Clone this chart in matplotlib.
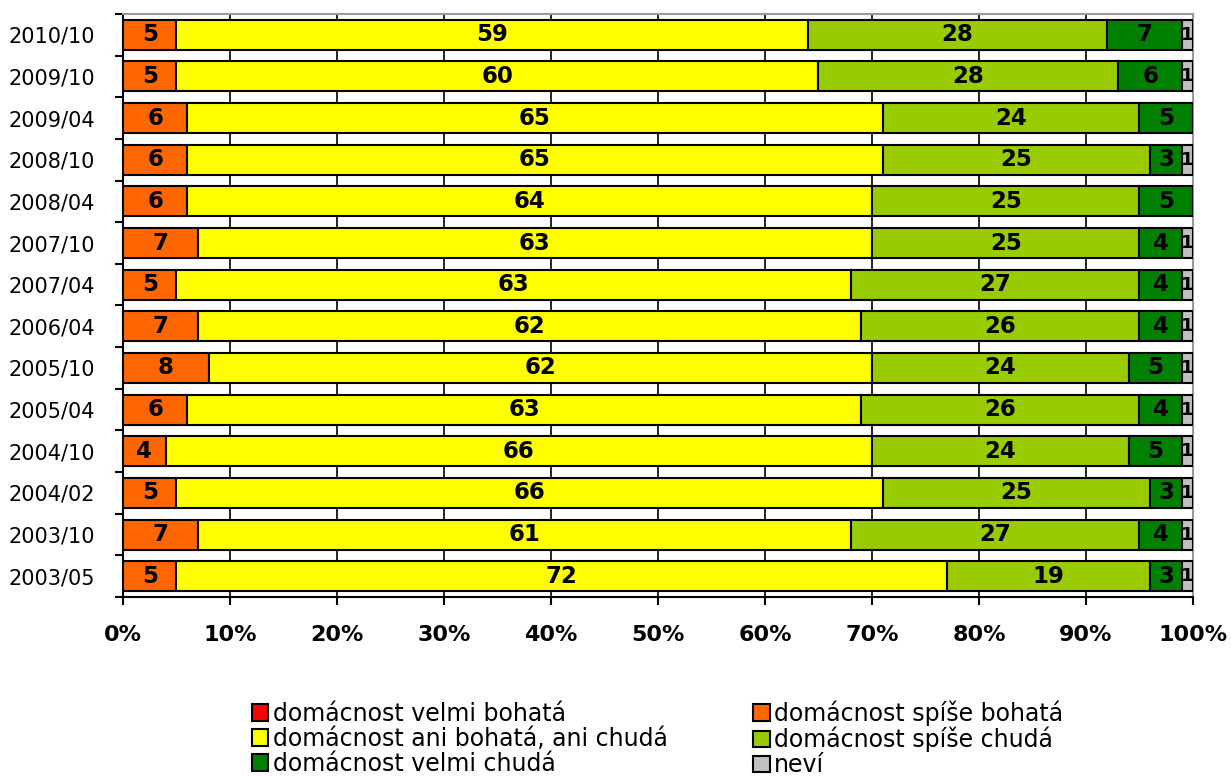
import numpy as np
import matplotlib.pyplot as plt
from matplotlib.patches import Patch

periods = ['2010/10', '2009/10', '2009/04', '2008/10', '2008/04', '2007/10', '2007/04',
           '2006/04', '2005/10', '2005/04', '2004/10', '2004/02', '2003/10', '2003/05']

velmi_bohata = [0, 0, 0, 0, 0, 0, 0, 0, 0, 0, 0, 0, 0, 0]
spise_bohata = [5, 5, 6, 6, 6, 7, 5, 7, 8, 6, 4, 5, 7, 5]
ani_ani = [59, 60, 65, 65, 64, 63, 63, 62, 62, 63, 66, 66, 61, 72]
spise_chuda = [28, 28, 24, 25, 25, 25, 27, 26, 24, 26, 24, 25, 27, 19]
velmi_chuda = [7, 6, 5, 3, 5, 4, 4, 4, 5, 4, 5, 3, 4, 3]
nevi = [1, 1, 0, 1, 0, 1, 1, 1, 1, 1, 1, 1, 1, 1]

series = [
    ('domácnost velmi bohatá', velmi_bohata, '#FF0000'),
    ('domácnost spíše bohatá', spise_bohata, '#FF6600'),
    ('domácnost ani bohatá, ani chudá', ani_ani, '#FFFF00'),
    ('domácnost spíše chudá', spise_chuda, '#99CC00'),
    ('domácnost velmi chudá', velmi_chuda, '#008000'),
    ('neví', nevi, '#C0C0C0'),
]

fig = plt.figure(figsize=(12.31, 7.76), dpi=100)
ax = fig.add_axes([0.0999, 0.2307, 0.8692, 0.7513])

y = np.arange(len(periods))[::-1]
left = np.zeros(len(periods))
handles = {}
for name, vals, color in series:
    vals = np.array(vals, dtype=float)
    ax.barh(y, vals, left=left, height=0.72, color=color,
            edgecolor='black', linewidth=1.5, zorder=3)
    handles[name] = Patch(facecolor=color, edgecolor='black', linewidth=1.5)
    for yi, l, v in zip(y, left, vals):
        if v > 0:
            fs = 16.5 if v > 1 else 13
            ax.text(l + v / 2, yi, f'{int(v)}', ha='center', va='center',
                    fontsize=fs, fontweight='bold', zorder=4)
    left += vals

ax.set_xlim(0, 100)
ax.set_ylim(-0.5, len(periods) - 0.5)
ax.set_xticks(np.arange(0, 101, 10))
ax.set_xticklabels([f'{t}%' for t in range(0, 101, 10)], fontsize=16, fontweight='bold')
ax.set_yticks(y)
ax.set_yticklabels(periods, fontsize=15)
ax.set_yticks(np.arange(-0.5, len(periods), 1), minor=True)
ax.tick_params(axis='y', which='major', length=0, pad=20)
ax.tick_params(axis='y', which='minor', length=6, width=1.5, direction='out')
ax.tick_params(axis='x', length=6, width=1.5, pad=14)
ax.grid(axis='x', color='black', linewidth=1.2, zorder=0)

for s in ['top', 'right']:
    ax.spines[s].set_color('#999999')
    ax.spines[s].set_linewidth(1.5)
for s in ['left', 'bottom']:
    ax.spines[s].set_linewidth(1.5)

order = ['domácnost velmi bohatá', 'domácnost ani bohatá, ani chudá', 'domácnost velmi chudá',
         'domácnost spíše bohatá', 'domácnost spíše chudá', 'neví']
fig.legend([handles[n] for n in order], order, loc='lower left',
           bbox_to_anchor=(0.197, -0.014), ncol=2, frameon=False, fontsize=17,
           handlelength=0.7, handleheight=0.7, handletextpad=0.2,
           labelspacing=0.05, columnspacing=3.6, borderaxespad=0)

fig.savefig('out.png', dpi=100)
